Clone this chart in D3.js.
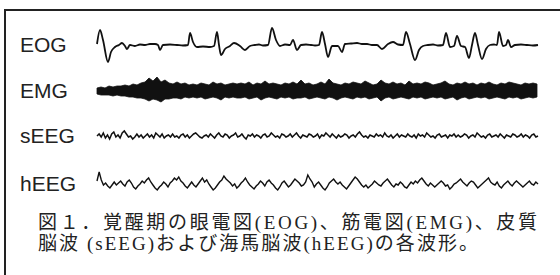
<!DOCTYPE html>
<html><head><meta charset="utf-8">
<script src="https://cdn.jsdelivr.net/npm/d3@7"></script>
<style>html,body{margin:0;padding:0;background:#fff;}svg{display:block;}</style>
</head><body>
<script>
// ---- data ----
const rowLabels = ["EOG", "EMG", "sEEG", "hEEG"];
// EOG: knots (time sample, amplitude)
const eogT = [0,3,6,11,14,18,22,25,28,30,33,38,43,48,53,58,61,63,66,73,80,86,91,93,96,100,106,113,117,120,122,124,128,133,137,143,148,153,158,162,166,171,175,179,183,188,193,196,200,204,209,214,218,222,225,228,231,235,241,245,248,254,260,265,270,275,280,285,291,296,301,306,309,313,318,322,326,331,336,341,346,349,353,357,360,364,368,372,375,378,381,385,389,393,397,400,402,406,409,411,414,418,424,430,436,441];
const eogV = [1,15,5,-17,-7,-2,0,2,-1,-4,0,-1,0.5,0,1,1,0,-5,0,0.5,0,-0.5,0,12,3,-2,-1.5,-2,-1,13,0,-10,-4,-1,2,-1,-5,-1,0,0.5,-0.5,0,17,5,-1,0.5,0,5,-5,0,0.5,0,-0.5,0,13,1,-12,-1,-1,-7,1,1.5,2,1,1,0,0,-4,1,3,0.5,0,13,1,-15,-5,-1,0,0.5,-0.5,0,12,-2,-1,9,-1,-2,-13,0,12,0,-14,-4,0,0.5,0,13,-1,0,5,-2,0,0.5,0,-0.5,0];
// EMG: upper / lower envelope, every 4 samples
const emgHi = [3,4,3,5,4,5, 5,6,5,7,6, 8,9,13,10,14,9,11, 8,7,9,7,8,6, 7,6,8,7,6,9,7,8,6,7,8,7, 8,7,9,6,8,7,10,7,8,7,6,8,7,9,7, 11,7,8,6,7,9,7,12,8,7,6,8,7,9,8, 7,10,8,6,7,11,8,7,9,7,8,6,10,7,8, 7,9,8,6,7,8,10,7,6,8,7,9,7,8,6, 8,7,9,7,6,8,7,9,8,7,6,8,7,8,7];
const emgLo = [3,4,4,4,5,4, 5,5,6,6,7, 7,8,10,8,9,11,8, 8,7,7,8,6,7, 6,7,6,8,7,6,7,9,6,7,6,7, 7,6,8,7,6,9,7,6,7,8,6,7,6,8,7, 7,6,8,7,6,7,8,6,7,9,7,6,7,8,6, 7,6,8,7,6,10,7,6,8,7,6,7,8,6,7, 6,8,7,6,7,6,8,7,6,9,7,6,8,7,6, 7,6,8,7,6,7,8,6,7,6,8,7,6,7,6];
// sEEG samples
const seegV = [
 0,2,-1,3,-2,1,-3,2,4,-1,1,-2,3,5,2,-1,0,-3,-1,2,
 -1,1,-2,0,2,-1,1,-2,3,1,-1,2,-2,0,1,-1,2,-1,0,-2,
 1,2,-1,1,-2,0,2,3,1,-1,-2,0,1,-1,2,0,-2,1,3,0,
 -1,2,1,-2,0,1,3,-1,0,2,-1,-3,1,0,2,-1,1,0,-2,1,
 2,-1,0,3,1,-1,0,-2,2,1,-1,0,2,-1,1,3,0,-2,1,0,
 -1,2,1,-1,0,2,-2,1,0,3,1,-1,2,0,-2,1,-1,0,2,1,
 -2,0,1,-1,2,4,1,-1,0,-2,1,0,-1,2,0,1,-1,3,0,-1,
 1,-2,0,2,-1,1,0,-1,2,0,-1,1,-2,2,0,1,-1,3,1,-1,
 0,-2,1,2,-1,0,1,-2,1,0,2,-1,1,-1,0,2,1,-2,0,1,
 -1,3,1,-1,0,-2,1,2,-1,0,1,-1,2,0,-2,1,0,-1,2,1,
 -1,0,2,-1,1,0,-2,1,2,-1,0];
// hEEG samples
const heegV = [
 3,12,4,-1,1,-2,-4,-1,2,-1,1,3,0,-2,2,4,1,-3,-5,-2,
 0,3,1,4,6,2,-1,-4,-6,-3,-1,2,0,-3,1,3,6,4,7,3,
 1,-2,-4,-1,2,-1,-3,0,3,6,2,4,0,-3,-6,-4,-1,2,4,8,
 5,3,1,-2,0,-4,-2,1,3,6,2,-1,-3,-5,-2,0,3,1,-2,2,
 4,1,-1,-4,-6,-3,1,3,0,-3,-1,2,5,3,1,-2,-1,2,9,5,
 2,-3,0,2,-1,-4,-6,-3,1,3,5,2,0,2,-1,-3,-5,-2,1,4,
 7,5,2,-1,-3,-1,-4,-2,0,3,1,-1,-2,1,3,5,2,-1,-3,0,
 -1,2,0,-3,-4,-1,2,0,3,1,4,6,3,0,-2,1,-1,-3,-1,1,
 3,1,-2,-1,-5,-3,0,1,3,5,2,0,-2,1,3,2,-1,-4,-2,0,
 2,4,6,2,0,-1,2,-2,-4,-1,1,3,0,-2,1,3,1,-1,-3,-1,
 1,3,0,-1,2,0];
const captionLines = ["図１．覚醒期の眼電図(EOG)、筋電図(EMG)、皮質", "脳波 (sEEG)および海馬脳波(hEEG)の各波形。"];

// ---- layout ----
const W = 560, H = 275;
const rowY = [45, 91, 136, 184];
const svg = d3.select("body").append("svg").attr("width", W).attr("height", H);

svg.append("path").attr("d", "M560,10H5V275").attr("fill", "none").attr("stroke", "#222").attr("stroke-width", 2);

const tMax = 441;
const x = d3.scaleLinear().domain([0, tMax]).range([97, 538]);
const amp = d3.scaleLinear().domain([-20, 20]).range([20, -20]);

// labels
svg.selectAll("text.lab").data(rowLabels).join("text").attr("class", "lab")
  .attr("x", 20).attr("y", (d, i) => rowY[i] + 7)
  .attr("font-family", "Liberation Sans, Arial, sans-serif").attr("font-size", 21)
  .attr("fill", "#222").text(d => d);

// EOG
const eog = eogT.map((t, i) => [t, eogV[i]]);
svg.append("path").datum(eog)
  .attr("d", d3.line().curve(d3.curveMonotoneX).x(d => x(d[0])).y(d => rowY[0] + amp(d[1])))
  .attr("fill", "none").attr("stroke", "#111").attr("stroke-width", 1.8).attr("stroke-linejoin", "round");

// EMG
const emg = emgHi.map((h, i) => ({ t: Math.min(i * 4, tMax), hi: h, lo: emgLo[i] }));
svg.append("path").datum(emg)
  .attr("d", d3.area().x(d => x(d.t)).y0(d => rowY[1] + amp(-d.lo)).y1(d => rowY[1] + amp(d.hi)))
  .attr("fill", "#111").attr("stroke", "#111").attr("stroke-width", 0.8);

// sEEG
svg.append("path").datum(seegV)
  .attr("d", d3.line().x((d, i) => x(i * tMax / (seegV.length - 1))).y(d => rowY[2] + amp(d)))
  .attr("fill", "none").attr("stroke", "#111").attr("stroke-width", 1.5);

// hEEG
svg.append("path").datum(heegV)
  .attr("d", d3.line().x((d, i) => x(i * tMax / (heegV.length - 1))).y(d => rowY[3] + amp(d)))
  .attr("fill", "none").attr("stroke", "#111").attr("stroke-width", 1.4);

// caption
const capLen = [499, 440];
svg.selectAll("text.cap").data(captionLines).join("text").attr("class", "cap")
  .attr("x", 38).attr("y", (d, i) => 229 + i * 21)
  .attr("font-family", "Liberation Serif, 'Noto Sans CJK JP', serif").attr("font-size", 19)
  .attr("fill", "#222")
  .attr("textLength", (d, i) => capLen[i]).attr("lengthAdjust", "spacing")
  .text(d => d);
</script>
</body></html>
